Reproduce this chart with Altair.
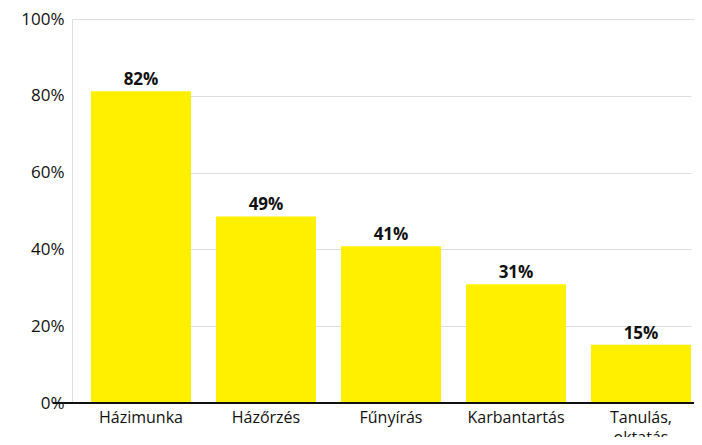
import altair as alt
import pandas as pd

categories = ["Házimunka", "Házőrzés", "Fűnyírás", "Karbantartás", "Tanulás, oktatás"]
values = [81.2, 48.6, 40.8, 30.9, 15.2]
labels = ["82%", "49%", "41%", "31%", "15%"]

df = pd.DataFrame({"cat": categories, "val": values, "lab": labels})

FONT = "Open Sans"
W, H = 622, 384

x = alt.X("cat:N", sort=categories, title=None,
          scale=alt.Scale(range=[19, 619], paddingInner=0.2, paddingOuter=0),
          axis=alt.Axis(labelAngle=0, labelFontSize=16, labelColor="#111", labelFont=FONT,
                        labelPadding=6, ticks=False, domain=False, labelLineHeight=20,
                        labelExpr="datum.label == 'Tanulás, oktatás' ? ['Tanulás,', 'oktatás'] : datum.label"))
y = alt.Y("val:Q", title=None,
          scale=alt.Scale(domain=[0, 100], nice=False),
          axis=alt.Axis(values=[0, 20, 40, 60, 80, 100], labelExpr="datum.value + '%'",
                        labelFontSize=17, labelColor="#111", labelFont=FONT, labelPadding=8,
                        ticks=False, domain=False, grid=True, gridColor="#dddddd", gridWidth=1))

bars = alt.Chart(df).mark_bar(color="#FFF000").encode(x=x, y=y)
text = alt.Chart(df).mark_text(baseline="bottom", dy=-2, fontSize=17, fontWeight="bold",
                               font=FONT, color="#111").encode(
    x=alt.X("cat:N", sort=categories), y="val:Q", text="lab:N")
base = alt.Chart(df).mark_rule(color="#111", strokeWidth=1.5).encode(
    y=alt.datum(0), x=alt.value(-19), x2=alt.value(W))

chart = alt.layer(bars, text, base).properties(
    width=W, height=H,
    autosize=alt.AutoSizeParams(type="none"),
    padding={"left": 64, "top": 11, "right": 0, "bottom": 34},
).configure_view(stroke=None).configure(background="white")

chart.save("out.html", embed_options={"renderer": "svg", "actions": False})
